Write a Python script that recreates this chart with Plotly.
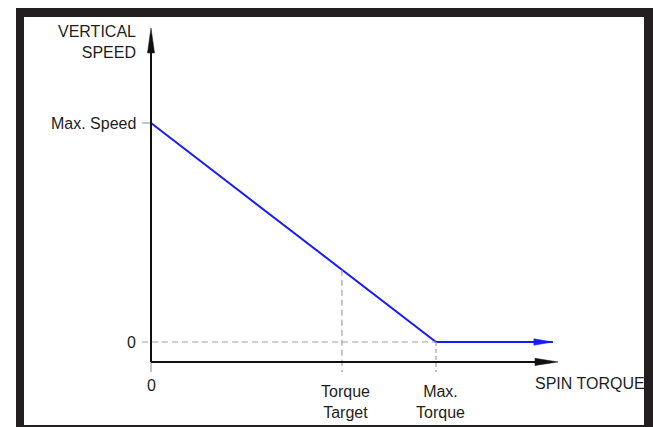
import plotly.graph_objects as go

# figure size in pixels
W, H = 653, 427

# --- data (normalised units: max torque = 1, max speed = 1) ---
speed_values = [0, 1.0]
speed_labels = ["0", "Max. Speed"]
torque_values = [0, 0.67, 1.0]
torque_labels = ["0", "Torque<br>Target", "Max.<br>Torque"]
curve_torque = [0, 1.0, 1.41]
curve_speed = [1.0, 0, 0]
x_axis_end = 1.428
y_axis_end = 1.434
x_axis_level = -0.091

# pixel placement of the origin and scale (px per unit)
X0, Y0 = 151, 342
SX, SY = 285, 219

def dx(px):
    return px / SX

def dy(px):
    return px / SY

x_range = [-X0 / SX, (W - X0) / SX]
y_range = [-(H - Y0) / SY, Y0 / SY]

FONT = "Liberation Sans, Arial, sans-serif"
TXT = "#1e1e1e"
GRAY = "#a0a0a0"
AXIS = "#111111"
BLUE = "#1a1aff"

fig = go.Figure()

# speed curve
fig.add_trace(go.Scatter(x=curve_torque, y=curve_speed, mode="lines",
                         line=dict(color=BLUE, width=2), hoverinfo="skip"))

shapes = []

# dashed guides
shapes.append(dict(type="line", xref="x", yref="y", x0=-dx(9), x1=torque_values[2],
                   y0=speed_values[0], y1=speed_values[0],
                   line=dict(color=GRAY, width=1.2, dash="6px,4px")))
target_speed = speed_values[1] * (1 - torque_values[1] / torque_values[2])
shapes.append(dict(type="line", xref="x", yref="y", x0=torque_values[1], x1=torque_values[1],
                   y0=target_speed, y1=x_axis_level - dy(10),
                   line=dict(color=GRAY, width=1.2, dash="6px,4px")))
shapes.append(dict(type="line", xref="x", yref="y", x0=torque_values[2], x1=torque_values[2],
                   y0=0, y1=x_axis_level - dy(10),
                   line=dict(color=GRAY, width=1.2, dash="4px,3px")))
# small ticks
shapes.append(dict(type="line", xref="x", yref="y", x0=0, x1=0,
                   y0=x_axis_level, y1=x_axis_level - dy(10),
                   line=dict(color=GRAY, width=1.2)))
shapes.append(dict(type="line", xref="x", yref="y", x0=-dx(9), x1=0,
                   y0=speed_values[1], y1=speed_values[1],
                   line=dict(color=GRAY, width=1.2)))

# axes
shapes.append(dict(type="line", xref="x", yref="y", x0=0, x1=0,
                   y0=x_axis_level, y1=y_axis_end - dy(20),
                   line=dict(color=AXIS, width=2)))
shapes.append(dict(type="line", xref="x", yref="y", x0=0, x1=x_axis_end - dx(20),
                   y0=x_axis_level, y1=x_axis_level,
                   line=dict(color=AXIS, width=2)))

def arrow(tx, ty, direction, length, half, color):
    if direction == "up":
        p = [(tx, ty), (tx - dx(half), ty - dy(length)), (tx + dx(half), ty - dy(length))]
    else:
        p = [(tx, ty), (tx - dx(length), ty + dy(half)), (tx - dx(length), ty - dy(half))]
    path = "M {} {} L {} {} L {} {} Z".format(*[v for pt in p for v in pt])
    return dict(type="path", xref="x", yref="y", path=path,
                fillcolor=color, line=dict(color=color, width=0.5))

shapes.append(arrow(0, y_axis_end, "up", 25, 3.5, AXIS))
shapes.append(arrow(x_axis_end, x_axis_level, "right", 23, 3.6, AXIS))
shapes.append(arrow(curve_torque[-1], curve_speed[-1], "right", 19, 3.2, BLUE))

# page frame
def frect(x0, y0, x1, y1):
    return dict(type="rect", xref="paper", yref="paper",
                x0=x0 / W, x1=x1 / W, y0=1 - y1 / H, y1=1 - y0 / H,
                fillcolor="#231f20", line=dict(width=0), layer="above")

shapes += [frect(16, 8, W, 17), frect(16, 8, 24, H), frect(644, 8, W, H), frect(16, 425, W, H)]

annotations = []
font = dict(family=FONT, size=16, color=TXT)

annotations.append(dict(x=-dx(13), y=y_axis_end + dy(7), xref="x", yref="y",
                        text="VERTICAL<br>SPEED", showarrow=False, align="right",
                        xanchor="right", yanchor="top", font=font))
for v, lab in zip(speed_values, speed_labels):
    annotations.append(dict(x=-dx(13), y=v, xref="x", yref="y", text=lab,
                            showarrow=False, xanchor="right", yanchor="middle", font=font))
for v, lab in zip(torque_values, torque_labels):
    if v == 0:
        annotations.append(dict(x=v, y=x_axis_level - dy(24), xref="x", yref="y", text=lab,
                                showarrow=False, xanchor="center", yanchor="middle", font=font))
    else:
        annotations.append(dict(x=v + dx(4), y=x_axis_level - dy(40), xref="x", yref="y",
                                text=lab, showarrow=False, xanchor="center",
                                yanchor="middle", font=font))
annotations.append(dict(x=x_axis_end - dx(25), y=x_axis_level - dy(22), xref="x", yref="y",
                        text="SPIN TORQUE", showarrow=False, xanchor="left",
                        yanchor="middle", font=font))

fig.update_layout(
    width=W, height=H, autosize=False,
    margin=dict(l=0, r=0, t=0, b=0),
    paper_bgcolor="white", plot_bgcolor="white",
    showlegend=False,
    xaxis=dict(range=x_range, visible=False, fixedrange=True),
    yaxis=dict(range=y_range, visible=False, fixedrange=True),
    shapes=shapes, annotations=annotations,
)

# drop the default page margin so the figure sits at the window origin
fig.write_html("out.html", config={"displayModeBar": False},
               post_script="document.body.style.margin='0';")
